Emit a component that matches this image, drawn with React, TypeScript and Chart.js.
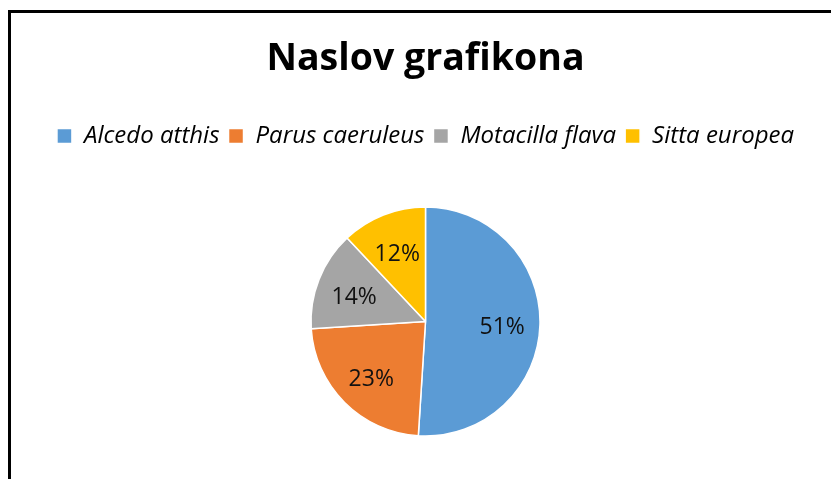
import React, { useEffect, useRef } from "react";
import { Chart, registerables } from "chart.js";

Chart.register(...registerables);

const categories = ["Alcedo atthis", "Parus caeruleus", "Motacilla flava", "Sitta europea"];
const values = [51, 23, 14, 12];
const colors = ["#5B9BD5", "#ED7D31", "#A5A5A5", "#FFC000"];
const titleText = "Naslov grafikona";

const labelPlugin = {
  id: "pctLabels",
  afterDatasetsDraw(chart: any) {
    const ctx = chart.ctx;
    const meta = chart.getDatasetMeta(0);
    const total = values.reduce((a, b) => a + b, 0);
    ctx.save();
    ctx.font = "23px 'Open Sans'";
    ctx.fillStyle = "#111111";
    ctx.textAlign = "center";
    ctx.textBaseline = "middle";
    meta.data.forEach((arc: any, i: number) => {
      const { x, y, startAngle, endAngle, outerRadius } = arc.getProps(
        ["x", "y", "startAngle", "endAngle", "outerRadius"],
        true
      );
      const mid = (startAngle + endAngle) / 2;
      const r = outerRadius * 0.67;
      const pct = Math.round((values[i] / total) * 100) + "%";
      ctx.fillText(pct, x + Math.cos(mid) * r, y + Math.sin(mid) * r + 4);
    });
    ctx.restore();
  },
};

const legendSpacer = {
  id: "legendSpacer",
  beforeInit(chart: any) {
    const legend = chart.legend;
    if (!legend) return;
    const orig = legend.fit;
    legend.fit = function () {
      orig.call(this);
      this.height += 27;
    };
  },
};

export default function App() {
  const ref = useRef<HTMLCanvasElement | null>(null);
  useEffect(() => {
    if (!ref.current) return;
    const chart = new Chart(ref.current, {
      type: "pie",
      data: {
        labels: categories,
        datasets: [
          {
            data: values,
            backgroundColor: colors,
            borderColor: "#ffffff",
            borderWidth: 1.5,
          },
        ],
      },
      plugins: [labelPlugin, legendSpacer],
      options: {
        animation: false,
        responsive: false,
        radius: 114.5,
        layout: { padding: { left: 20, right: 0, top: 0, bottom: 21 } },
        plugins: {
          tooltip: { enabled: false },
          title: {
            display: true,
            text: titleText,
            color: "#000000",
            font: { family: "'Open Sans'", size: 37.5, weight: "bold" },
            padding: { top: 37, bottom: 33 },
          },
          legend: {
            display: true,
            position: "top",
            labels: {
              color: "#000000",
              boxWidth: 15,
              boxHeight: 15,
              padding: 9,
              font: { family: "'Open Sans'", size: 24, style: "italic" },
            },
          },
        },
      } as any,
    });
    return () => chart.destroy();
  }, []);

  return (
    <div style={{ position: "fixed", left: 0, top: 0, width: "100vw", height: "100vh", overflow: "hidden", background: "#fff" }}>
      <div
        style={{
          position: "absolute",
          left: 8,
          top: 10,
          width: 900,
          height: 600,
          border: "3px solid #000",
          boxSizing: "border-box",
        }}
      />
      <canvas ref={ref} width={831} height={479} style={{ position: "absolute", left: 0, top: 0 }} />
    </div>
  );
}
